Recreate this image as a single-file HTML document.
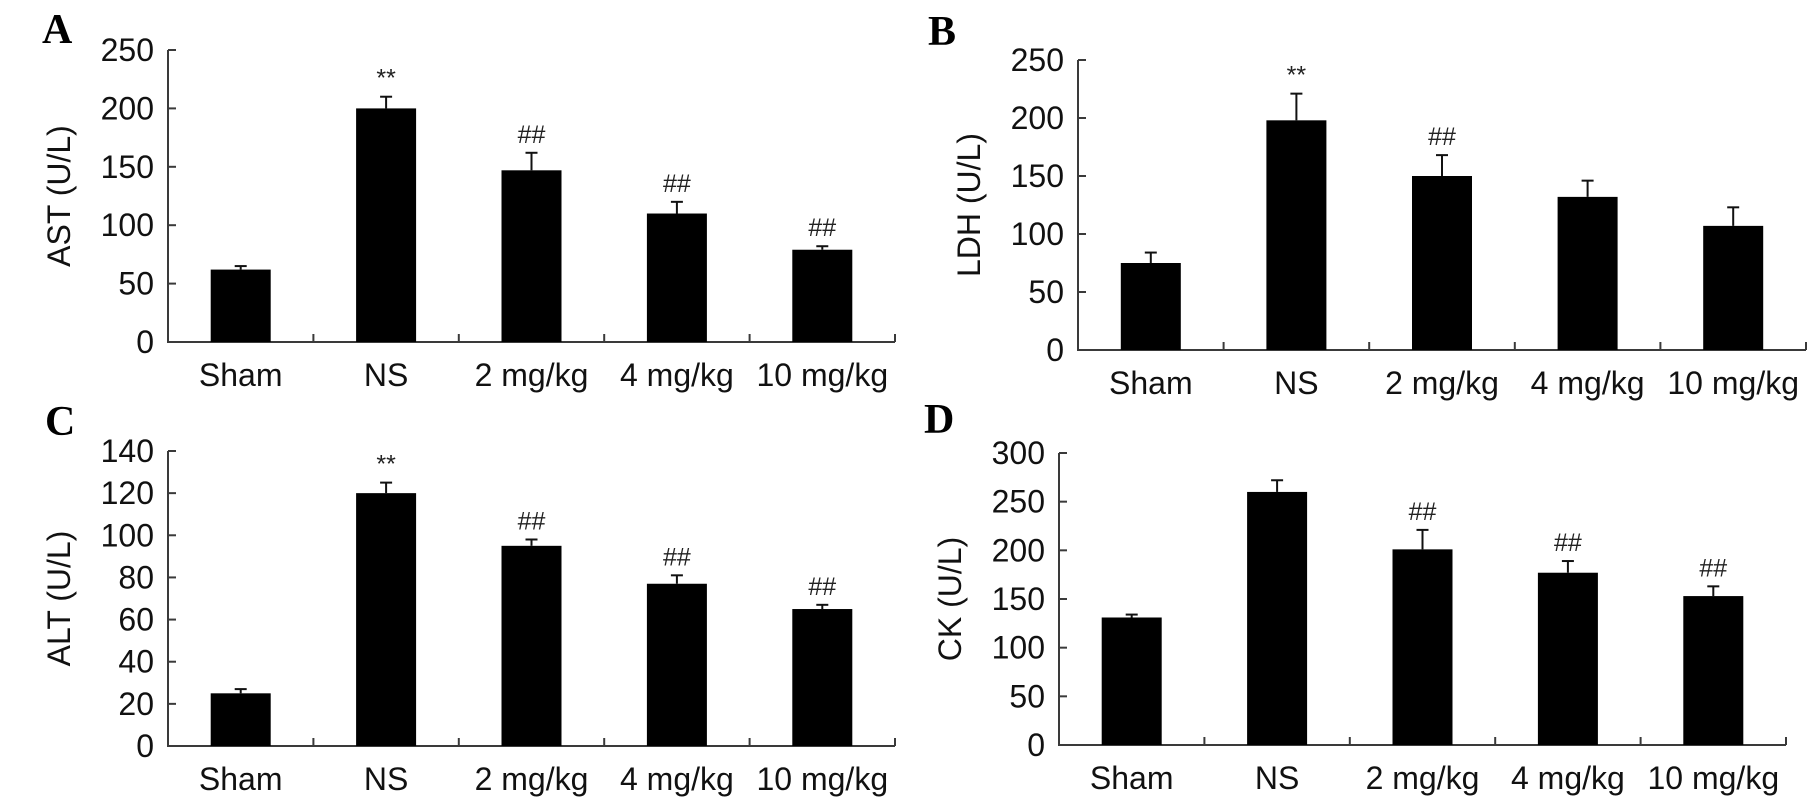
<!DOCTYPE html>
<html><head><meta charset="utf-8">
<style>
html,body{margin:0;padding:0;background:#fff;}
svg{display:block;font-family:"Liberation Sans",Arial,sans-serif;}
</style></head>
<body>
<svg id="fig" width="1820" height="808" viewBox="0 0 1820 808" xmlns="http://www.w3.org/2000/svg"></svg>
<script>
const categories = ["Sham","NS","2 mg/kg","4 mg/kg","10 mg/kg"];
const astValues = [62,200,147,110,79];
const astErrors = [3,10,15,10,3];
const astMarks = ["","**","##","##","##"];
const astTicks = [0,50,100,150,200,250];
const ldhValues = [75,198,150,132,107];
const ldhErrors = [9,23,18,14,16];
const ldhMarks = ["","**","##","",""];
const ldhTicks = [0,50,100,150,200,250];
const altValues = [25,120,95,77,65];
const altErrors = [2,5,3,4,2];
const altMarks = ["","**","##","##","##"];
const altTicks = [0,20,40,60,80,100,120,140];
const ckValues = [131,260,201,177,153];
const ckErrors = [3,12,20,12,10];
const ckMarks = ["","","##","##","##"];
const ckTicks = [0,50,100,150,200,250,300];

const NS="http://www.w3.org/2000/svg";
const svg=document.getElementById('fig');
function mk(tag,attrs,parent){const e=document.createElementNS(NS,tag);for(const k in attrs)e.setAttribute(k,attrs[k]);(parent||svg).appendChild(e);return e;}

function panel(cfg){
  const g=mk('g',{});
  
  
  const x0=cfg.x0, yTop=cfg.yTop, yZero=cfg.yZero, step=cfg.step;
  const ticks=cfg.ticks, max=ticks[ticks.length-1];
  const yS=v=>yZero-(v/max)*(yZero-yTop);
  const xS=i=>x0+step*(i+0.5);
  const stroke='#3a3a3a';
  const L=mk('text',{x:cfg.lx,y:cfg.ly,'font-family':'"Liberation Serif",serif','font-weight':'bold','font-size':42,fill:'#000'},g);
  L.textContent=cfg.letter;
  
  
  const ya=mk('line',{x1:x0,y1:yTop,x2:x0,y2:yZero,stroke:stroke,'stroke-width':2},g);
  
  
  const xa=mk('line',{x1:x0-1,y1:yZero,x2:x0+step*categories.length,y2:yZero,stroke:stroke,'stroke-width':2},g);
  
  
  ticks.forEach(t=>{
    const y=yS(t);
    mk('line',{x1:x0,y1:y,x2:x0+8,y2:y,stroke:stroke,'stroke-width':2},g);
    const tx=mk('text',{x:x0-14,y:y+11,'font-size':32,'text-anchor':'end',fill:'#111'},g);
    tx.textContent=t;
    
    
  });
  const yt=mk('text',{x:0,y:0,'font-size':32,'text-anchor':'middle',fill:'#111',transform:`translate(${x0-98},${(yTop+yZero)/2}) rotate(-90)`},g);
  yt.textContent=cfg.title;
  
  
  categories.forEach((c,i)=>{
    const tx=x0+step*(i+1);
    mk('line',{x1:tx,y1:yZero,x2:tx,y2:yZero-8,stroke:stroke,'stroke-width':2},g);
    const cx=xS(i), v=cfg.values[i], e=cfg.errors[i];
    const bar=mk('rect',{x:cx-30,y:yS(v),width:60,height:yZero-yS(v),fill:'#000'},g);
    
    
    const ye=yS(v+e);
    mk('line',{x1:cx,y1:yS(v),x2:cx,y2:ye,stroke:'#111','stroke-width':2},g);
    mk('line',{x1:cx-6,y1:ye,x2:cx+6,y2:ye,stroke:'#111','stroke-width':2},g);
    if(cfg.marks[i]){
      const m=mk('text',{x:cx,y:ye-10,'font-size':25,'text-anchor':'middle',fill:'#222'},g);
      m.textContent=cfg.marks[i];
      
      
    }
    const cl=mk('text',{x:cx,y:yZero+44,'font-size':32,'text-anchor':'middle',fill:'#111'},g);
    cl.textContent=c;
    
    
  });
}
panel({id:'ast',letter:'A',lx:42,ly:43,x0:168,yTop:50,yZero:342,step:145.4,ticks:astTicks,values:astValues,errors:astErrors,marks:astMarks,title:'AST (U/L)'});
panel({id:'ldh',letter:'B',lx:928,ly:45,x0:1078,yTop:60,yZero:350,step:145.6,ticks:ldhTicks,values:ldhValues,errors:ldhErrors,marks:ldhMarks,title:'LDH (U/L)'});
panel({id:'alt',letter:'C',lx:45,ly:435,x0:168,yTop:451,yZero:746,step:145.4,ticks:altTicks,values:altValues,errors:altErrors,marks:altMarks,title:'ALT (U/L)'});
panel({id:'ck',letter:'D',lx:924,ly:433,x0:1059,yTop:453,yZero:745,step:145.4,ticks:ckTicks,values:ckValues,errors:ckErrors,marks:ckMarks,title:'CK (U/L)'});
</script>
</body></html>
